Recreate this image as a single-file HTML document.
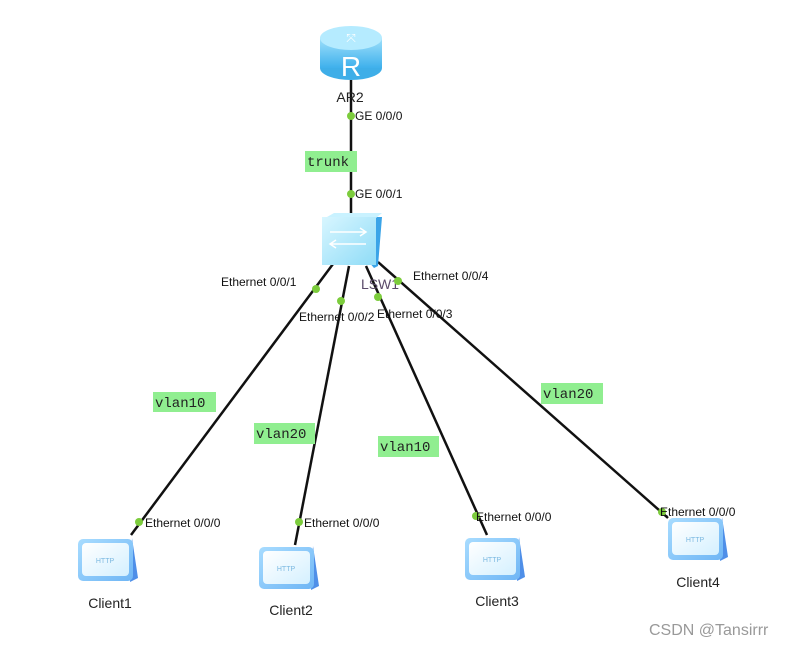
<!DOCTYPE html>
<html><head><meta charset="utf-8"><style>
html,body{margin:0;padding:0;background:#fff;}
svg{display:block;}
text{font-family:"Liberation Sans",Arial,sans-serif;}
.p{font-size:12px;fill:#111;}
.c{font-size:14px;fill:#222;}
.v{font-family:"Liberation Mono","DejaVu Sans Mono",monospace;font-size:14px;fill:#222;}
</style></head><body>
<svg width="808" height="647" viewBox="0 0 808 647" xmlns="http://www.w3.org/2000/svg">
<defs>
<linearGradient id="cg" x1="0" y1="0" x2="1" y2="1"><stop offset="0" stop-color="#a8dcff"/><stop offset="1" stop-color="#6fb6f5"/></linearGradient>
<linearGradient id="cf" x1="0" y1="0" x2="1" y2="1"><stop offset="0" stop-color="#ffffff"/><stop offset="1" stop-color="#d4f0ff"/></linearGradient>
<linearGradient id="rg" x1="0" y1="0" x2="0" y2="1"><stop offset="0" stop-color="#9fe0fb"/><stop offset="1" stop-color="#3eb0ec"/></linearGradient>
<linearGradient id="sg" x1="0" y1="0" x2="1" y2="1"><stop offset="0" stop-color="#d8f6ff"/><stop offset="1" stop-color="#8fdcf7"/></linearGradient>
<g id="cl">
<path d="M54 2 L60 42 L52 46 Z" fill="#4f8fe8"/>
<rect x="0" y="3" width="55" height="42" rx="5" fill="url(#cg)"/>
<rect x="4" y="7" width="47" height="33" rx="4" fill="url(#cf)"/>
<text x="27" y="27" text-anchor="middle" font-size="7" fill="#7ab8e0" font-family="Liberation Serif,serif">HTTP</text>
</g>
</defs>
<!-- lines -->
<g stroke="#111" stroke-width="2.5" fill="none">
<line x1="351" y1="80" x2="351" y2="216"/>
<line x1="333" y1="264" x2="131" y2="535"/>
<line x1="349" y1="266" x2="295" y2="545"/>
<line x1="366" y1="266" x2="487" y2="535"/>
<line x1="378" y1="262" x2="668" y2="518"/>
</g>
<!-- router -->
<ellipse cx="351" cy="68" rx="31" ry="12" fill="#3eaee8"/>
<rect x="320" y="38" width="62" height="30" fill="url(#rg)"/>
<ellipse cx="351" cy="38" rx="31" ry="12" fill="#b5ebff"/>
<text x="351" y="76" text-anchor="middle" font-size="28" fill="#fff" font-family="Liberation Sans,sans-serif">R</text>
<text x="351" y="42" text-anchor="middle" font-size="12" fill="#fff">⤧</text>
<text x="350" y="102" text-anchor="middle" class="c">AR2</text>
<!-- switch -->
<path d="M330 217 L382 217 L378 266 L374 268 Z" fill="#3aa4e8"/>
<path d="M327 217 L334 213 L382 213 L376 218 Z" fill="#c9f2ff"/>
<rect x="322" y="217" width="54" height="48" fill="url(#sg)"/>
<path d="M330 232 h36 m-6 -4 l6 4 l-6 4 M366 244 h-36 m6 -4 l-6 4 l6 4" stroke="#fff" stroke-width="1.5" fill="none"/>
<text x="380" y="289" text-anchor="middle" class="c" fill="#5a4a7a" style="fill:#5a4a6a">LSW1</text>
<!-- trunk -->
<rect x="305" y="151" width="52" height="21" fill="#90ee90"/>
<text x="307" y="166" class="v">trunk</text>
<!-- vlan labels -->
<rect x="153" y="392" width="63" height="20" fill="#90ee90"/><text x="155" y="407" class="v">vlan10</text>
<rect x="254" y="423" width="61" height="21" fill="#90ee90"/><text x="256" y="438" class="v">vlan20</text>
<rect x="378" y="436" width="61" height="21" fill="#90ee90"/><text x="380" y="451" class="v">vlan10</text>
<rect x="541" y="383" width="62" height="21" fill="#90ee90"/><text x="543" y="398" class="v">vlan20</text>
<!-- dots -->
<g fill="#7ccc3c">
<circle cx="351" cy="116" r="4"/><circle cx="351" cy="194" r="4"/>
<circle cx="316" cy="289" r="4"/><circle cx="341" cy="301" r="4"/>
<circle cx="378" cy="297" r="4"/><circle cx="398" cy="281" r="4"/>
<circle cx="139" cy="522" r="4"/><circle cx="299" cy="522" r="4"/>
<circle cx="476" cy="516" r="4"/><circle cx="662" cy="512" r="4"/>
</g>
<!-- port labels -->
<text x="355" y="120" class="p">GE 0/0/0</text>
<text x="355" y="198" class="p">GE 0/0/1</text>
<text x="221" y="286" class="p">Ethernet 0/0/1</text>
<text x="299" y="321" class="p">Ethernet 0/0/2</text>
<text x="377" y="318" class="p">Ethernet 0/0/3</text>
<text x="413" y="280" class="p">Ethernet 0/0/4</text>
<text x="145" y="527" class="p">Ethernet 0/0/0</text>
<text x="304" y="527" class="p">Ethernet 0/0/0</text>
<text x="476" y="521" class="p">Ethernet 0/0/0</text>
<text x="660" y="516" class="p">Ethernet 0/0/0</text>
<!-- clients -->
<use href="#cl" x="78" y="536"/>
<use href="#cl" x="259" y="544"/>
<use href="#cl" x="465" y="535"/>
<use href="#cl" x="668" y="515"/>
<text x="110" y="608" text-anchor="middle" class="c">Client1</text>
<text x="291" y="615" text-anchor="middle" class="c">Client2</text>
<text x="497" y="606" text-anchor="middle" class="c">Client3</text>
<text x="698" y="587" text-anchor="middle" class="c">Client4</text>
<text x="649" y="635" font-size="16" fill="#999" font-family="Liberation Sans,sans-serif">CSDN @Tansirrr</text>
</svg>
</body></html>
